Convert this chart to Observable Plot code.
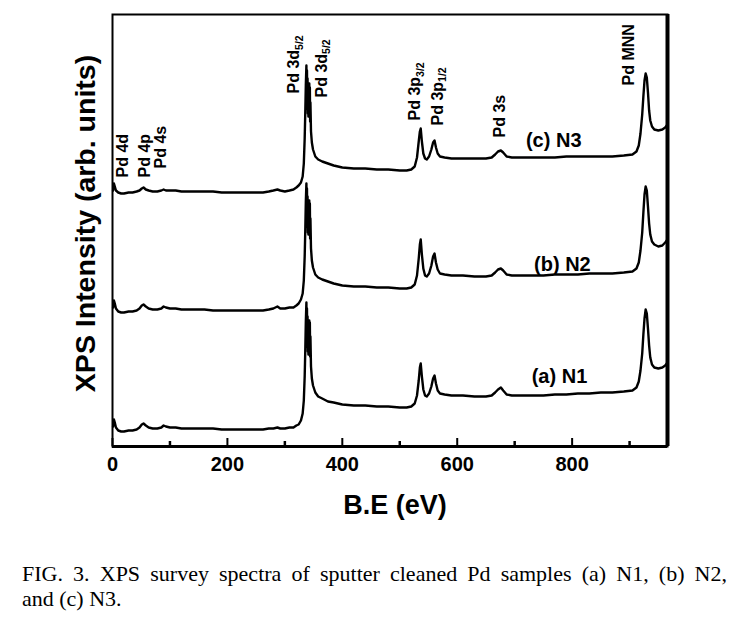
<!DOCTYPE html>
<html><head><meta charset="utf-8">
<script src="https://cdn.jsdelivr.net/npm/d3@7"></script>
<script src="https://cdn.jsdelivr.net/npm/@observablehq/plot@0.6"></script>
<style>
html,body{margin:0;padding:0;background:#fff;}
body{width:741px;height:618px;position:relative;overflow:hidden;font-family:"Liberation Sans",Arial,sans-serif;}
#chart{position:absolute;left:0;top:0;}
#caption{position:absolute;left:22px;top:561px;width:705px;font-family:"Liberation Serif","Times New Roman",serif;font-size:22px;line-height:25px;color:#000;}
#caption .l1{text-align:justify;text-align-last:justify;}
</style></head><body>
<div id="chart"></div>
<div id="caption"><div class="l1">FIG. 3. XPS survey spectra of sputter cleaned Pd samples (a) N1, (b) N2,</div><div>and (c) N3.</div></div>
<script>
// ---- data (binding energy eV, intensity arb. units, stacked as drawn) ----
const n1 = [
[1,20],[2.5,27],[4,24],[6,19],[10,16],[15,15],[20,15],[28,16],[35,16],[42,17],[47,19],[51,22],[54,23],[58,21],[63,19],[70,18],[78,18],[85,19],[89,21],[93,20],[100,19],[110,19],[120,18],[130,18],[145,18],[160,18],[175,18],[190,17],[205,17],[220,17],[235,17],[250,17],[262,17],[272,18],[280,18],[287,19],[292,18],[300,18],[308,19],[315,19],[320,21],[324,22],
[328,26],[331,33],[333,46],[334.5,70],[335.5,95],[336.5,125],[337.5,144],[338,110],[338.5,138],[339,100],[339.5,130],[340,95],[340.5,124],[341,92],[341.5,122],[342,96],[342.5,126],[343,100],[343.5,124],[344,90],[344.5,110],[345.5,80],[347,68],[349,61],[353,54],[358,50],
[365,48],[375,45],[385,44],[400,42],[420,41],[440,41],[460,40],[480,40],[500,39],[512,39],[520,40],[526,43],[530,51],[533,66],[535,79],[536.5,83],[538.5,70],[541,57],[544,51],[547,50],[551,53],[555,60],[558,68],[560.5,71],[563,63],[566,56],[570,53],[578,52],[590,51],[610,51],[630,50],[650,50],[660,51],[666,54],[671,57],[676,59],[680,56],[686,52],[695,51],[710,51],[730,51],[750,51],[770,52],[790,52],[810,53],[830,53],[850,54],[870,54],[890,55],[905,56],[912,59],[916,65],[919,76],[922,93],[924,112],[926,128],[928,137],[930,133],[932,118],[934,101],[936,89],[939,82],[943,79],[950,78],[957,79],[962,81],[966,84]
];
const n2 = [
[1,139],[2.5,146],[4,143],[6,138],[10,135],[15,134],[20,134],[28,135],[35,135],[42,136],[47,138],[51,141],[54,142],[58,140],[63,138],[70,137],[78,137],[85,138],[89,140],[93,139],[100,138],[110,138],[120,137],[130,137],[145,137],[160,137],[175,136],[190,136],[205,136],[220,136],[235,136],[250,136],[262,136],[272,137],[280,138],[287,140],[292,138],[300,138],[308,139],[315,139],[320,141],[324,143],
[328,147],[331,153],[333,166],[334.5,190],[335.5,215],[336.5,245],[337.5,263],[338,228],[338.5,258],[339,220],[339.5,250],[340,214],[340.5,244],[341,212],[341.5,242],[342,216],[342.5,246],[343,220],[343.5,243],[344,208],[344.5,228],[345.5,198],[347,186],[349,179],[353,172],[358,169],
[365,167],[375,165],[385,163],[400,161],[420,160],[440,160],[460,159],[480,159],[500,158],[512,158],[520,159],[526,162],[530,171],[533,188],[535,202],[536.5,207],[538.5,192],[541,178],[544,171],[547,170],[551,173],[555,181],[558,190],[560.5,193],[563,184],[566,177],[570,173],[578,172],[590,171],[610,171],[630,170],[650,170],[660,171],[666,174],[671,177],[676,178],[680,176],[686,172],[695,171],[710,171],[730,171],[750,171],[770,172],[790,172],[810,172],[830,173],[850,173],[870,173],[890,174],[905,175],[912,178],[916,184],[919,196],[922,214],[924,234],[926,252],[928,260],[930,256],[932,240],[934,223],[936,212],[939,205],[943,202],[950,200],[957,201],[962,204],[966,207]
];
const n3 = [
[1,256],[2.5,263],[4,260],[6,256],[10,254],[15,253],[20,253],[28,254],[35,254],[42,255],[47,256],[51,258],[54,259],[58,257],[63,256],[70,255],[78,255],[85,256],[89,257],[93,256],[100,256],[110,256],[120,255],[130,255],[145,255],[160,255],[175,255],[190,254],[205,254],[220,254],[235,254],[250,254],[262,254],[272,255],[280,256],[287,257],[292,256],[300,255],[308,256],[315,257],[320,259],[324,261],
[328,264],[331,270],[333,283],[334.5,308],[335.5,333],[336.5,362],[337.5,381],[338,346],[338.5,376],[339,338],[339.5,368],[340,333],[340.5,362],[341,330],[341.5,360],[342,334],[342.5,363],[343,338],[343.5,359],[344,325],[344.5,344],[345.5,315],[347,304],[349,297],[353,290],[358,287],
[365,285],[375,283],[385,281],[400,279],[420,278],[440,278],[460,277],[480,277],[500,276],[512,276],[520,277],[526,280],[530,289],[533,305],[535,315],[536.5,318],[538.5,305],[541,293],[544,288],[547,287],[551,290],[555,297],[558,304],[560.5,306],[563,299],[566,293],[570,290],[578,289],[590,288],[610,288],[630,288],[650,288],[660,289],[666,292],[671,295],[676,296],[680,294],[686,290],[695,289],[710,289],[730,289],[750,289],[770,289],[790,290],[810,290],[830,290],[850,290],[870,290],[890,291],[905,292],[912,295],[916,301],[919,313],[922,332],[924,350],[926,366],[928,373],[930,369],[932,354],[934,336],[936,326],[939,320],[943,317],[950,316],[957,317],[962,319],[966,322]
];
const sampleNames = ["(a) N1", "(b) N2", "(c) N3"];
const sampleLabelBE = [778, 783, 768];
const sampleLabelI = [70, 182, 306];
const peakNames = ["Pd 4d","Pd 4p","Pd 4s","Pd 3d_5/2","Pd 3d_5/2","Pd 3p_3/2","Pd 3p_1/2","Pd 3s","Pd MNN"];
const peakBE = [18, 56, 85, 316, 364, 527, 566, 675, 898];
const peakI = [269, 269, 278, 353, 349, 326, 321, 309, 361];
const xTicks = [0, 200, 400, 600, 800];
const xMinorTicks = [100, 300, 500, 700, 900];
const xDomain = [0, 966];
const yDomain = [0, 432];

// ---- build table ----
const spectra = [n1, n2, n3];
const rows = [];
spectra.forEach((s, i) => s.forEach(([be, v]) => rows.push({sample: sampleNames[i], be, v})));
const sampleLabels = sampleNames.map((t, i) => ({t, be: sampleLabelBE[i], v: sampleLabelI[i]}));
const peakLabels = peakNames.map((t, i) => ({t, be: peakBE[i], v: peakI[i]}));

const W = 741, H = 545, mT = 14, mB = 99, mL = 112, mR = 74;
const frameH = H - mT - mB;

const chart = Plot.plot({
  width: W, height: H,
  marginLeft: mL, marginRight: mR, marginTop: mT, marginBottom: mB,
  style: {fontFamily: '"Liberation Sans", Arial, sans-serif', color: "#000", background: "#fff", overflow: "visible"},
  x: {domain: xDomain},
  y: {domain: yDomain, axis: null},
  marks: [
    Plot.line(rows, {x: "be", y: "v", z: "sample", stroke: "#000", strokeWidth: 2.4, strokeLinejoin: "round"}),
    Plot.frame({stroke: "#000", strokeWidth: 2}),
    Plot.ruleX([xDomain[1]], {stroke: "#000", strokeWidth: 4}),
    Plot.ruleY([yDomain[0]], {stroke: "#000", strokeWidth: 3}),
    Plot.ruleX(xTicks, {stroke: "#000", strokeWidth: 2, insetTop: frameH - 8}),
    Plot.ruleX(xMinorTicks, {stroke: "#000", strokeWidth: 2.5, insetTop: frameH - 5}),
    Plot.axisX(xTicks, {tickSize: 0, tickPadding: 10, fontSize: 20, fontWeight: "bold", label: null, tickFormat: d => String(d)}),
    Plot.text(["B.E (eV)"], {text: d => d, frameAnchor: "bottom", dx: 5, dy: 67, fontSize: 27, fontWeight: "bold"}),
    Plot.text(["XPS Intensity (arb. units)"], {text: d => d, frameAnchor: "left", textAnchor: "middle", lineAnchor: "middle", rotate: -90, dx: -27, dy: -7, fontSize: 28.5, fontWeight: "bold"}),
    Plot.text(peakLabels, {x: "be", y: "v", text: "t", rotate: -90, textAnchor: "start", lineAnchor: "middle", fontSize: 16, fontWeight: "bold"}),
    Plot.text(sampleLabels, {x: "be", y: "v", text: "t", fontSize: 20, fontWeight: "bold"})
  ]
});

// subscripts in peak labels
d3.select(chart).selectAll("text").each(function() {
  const t = this.textContent;
  if (t.includes("_")) {
    const [a, b] = t.split("_");
    const sel = d3.select(this);
    sel.text(null);
    sel.append("tspan").text(a);
    sel.append("tspan").attr("font-size", "10.5px").attr("dy", "0.35em").text(b);
  }
});

document.getElementById("chart").appendChild(chart);
</script>
</body></html>
